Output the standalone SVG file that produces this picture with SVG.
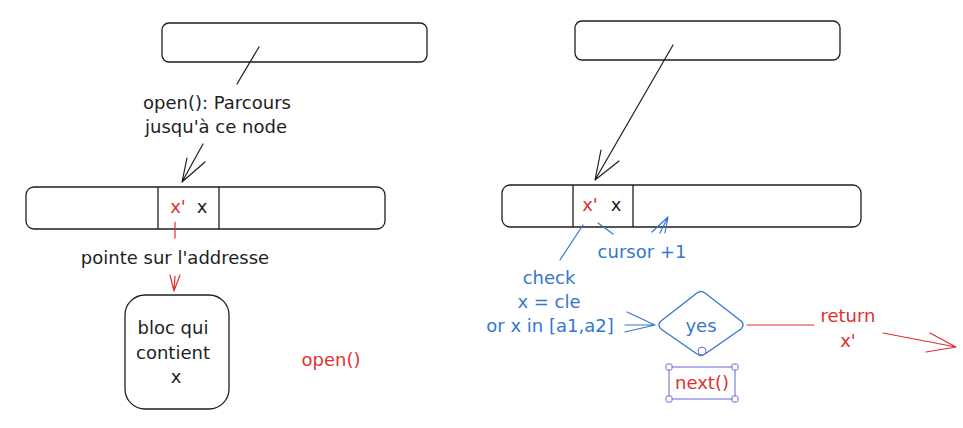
<svg xmlns="http://www.w3.org/2000/svg" width="963" height="428" viewBox="0 0 963 428">
  <style>
    .box { fill: #ffffff; stroke: #1e1e1e; stroke-width: 1.3; }
    .div { stroke: #1e1e1e; stroke-width: 1.3; }
    .t { font-family: "DejaVu Sans", "Liberation Sans", sans-serif; font-size: 18px; text-anchor: middle; }
    .k { fill: #1e1e1e; }
    .r { fill: #e03131; }
    .b { fill: #3577cf; }
    .ck { fill: none; stroke: #1e1e1e; stroke-width: 1.2; stroke-linecap: round; stroke-linejoin: round; }
    .cr { fill: none; stroke: #e03131; stroke-width: 1.2; stroke-linecap: round; stroke-linejoin: round; }
    .cb { fill: none; stroke: #3577cf; stroke-width: 1.2; stroke-linecap: round; stroke-linejoin: round; }
    .sel { fill: none; stroke: #6965db; stroke-width: 1; }
    .hdl { fill: #ffffff; stroke: #6965db; stroke-width: 1; }
  </style>

  <!-- left column -->
  <g id="left-top">
    <rect class="box" x="162" y="23" width="265" height="39" rx="7"/>
  </g>
  <g id="left-label">
    <text class="t k" x="217" y="109">open(): Parcours</text>
    <text class="t k" x="216" y="133">jusqu'à ce node</text>
  </g>
  <g id="left-bar">
    <rect class="box" x="26" y="187" width="359" height="42" rx="8"/>
    <line class="div" x1="158" y1="187" x2="158" y2="229"/>
    <line class="div" x1="219" y1="187" x2="219" y2="229"/>
    <text class="t r" x="178" y="213">x'</text>
    <text class="t k" x="202" y="213">x</text>
  </g>
  <g id="left-pointer-label">
    <text class="t k" x="175" y="264">pointe sur l'addresse</text>
  </g>
  <g id="bloc">
    <rect class="box" x="125" y="295" width="104" height="114" rx="20"/>
    <text class="t k" x="173" y="334">bloc qui</text>
    <text class="t k" x="173" y="359">contient</text>
    <text class="t k" x="176" y="383">x</text>
  </g>
  <g id="open-label">
    <text class="t r" x="331" y="366">open()</text>
  </g>

  <!-- right column -->
  <g id="right-top">
    <rect class="box" x="575" y="21" width="265" height="39" rx="7"/>
  </g>
  <g id="right-bar">
    <rect class="box" x="502" y="185" width="359" height="42" rx="8"/>
    <line class="div" x1="573" y1="185" x2="573" y2="227"/>
    <line class="div" x1="633" y1="185" x2="633" y2="227"/>
    <text class="t r" x="590" y="211">x'</text>
    <text class="t k" x="616" y="211">x</text>
  </g>
  <g id="cursor-label">
    <text class="t b" x="642" y="258">cursor +1</text>
  </g>
  <g id="check-label">
    <text class="t b" x="549" y="284">check</text>
    <text class="t b" x="549" y="308">x = cle</text>
    <text class="t b" x="550" y="332">or x in [a1,a2]</text>
  </g>
  <g id="decision">
    <path d="M661 321 L697 293 Q701 290 705 293 L741 321 Q745 325 741 329 L705 354 Q701 357 697 354 L661 329 Q657 325 661 321 Z" fill="#ffffff" stroke="#3577cf" stroke-width="1.3"/>
    <text class="t b" x="701" y="332">yes</text>
    <circle class="hdl" cx="702" cy="351" r="4"/>
  </g>
  <g id="next">
    <rect class="sel" x="669" y="367" width="66" height="32"/>
    <rect class="hdl" x="666" y="364" width="6" height="6" rx="1.5"/>
    <rect class="hdl" x="732" y="364" width="6" height="6" rx="1.5"/>
    <rect class="hdl" x="666" y="396" width="6" height="6" rx="1.5"/>
    <rect class="hdl" x="732" y="396" width="6" height="6" rx="1.5"/>
    <text class="t r" x="702" y="389">next()</text>
  </g>
  <g id="return-label">
    <text class="t r" x="848" y="322">return</text>
    <text class="t r" x="848" y="347">x'</text>
  </g>

  <!-- connectors -->
  <g id="connectors">
    <!-- left: top box to bar -->
    <line class="ck" x1="259" y1="47" x2="237" y2="84"/>
    <path class="ck" d="M203 144 L182 182 M187 158 L182 182 L205 162"/>
    <!-- left: x' to bloc -->
    <line class="cr" x1="175" y1="222" x2="175" y2="238"/>
    <path class="cr" d="M175 276 L174 291 M170 275 L174 291 L180 275"/>
    <!-- right: top box to bar -->
    <path class="ck" d="M673 45 L595 180 M601 150 L595 180 L619 161"/>
    <!-- right: cursor annotations -->
    <line class="cb" x1="583" y1="225" x2="560" y2="260"/>
    <line class="cb" x1="598" y1="223" x2="613" y2="234"/>
    <path class="cb" d="M660 233 L668 217 M652 232 L668 217 L665 233"/>
    <!-- right: check to decision -->
    <path class="cb" d="M625 325 L655 325 M627 312 L655 325 L625 332"/>
    <!-- right: decision to return -->
    <line class="cr" x1="747" y1="325" x2="814" y2="325"/>
    <path class="cr" d="M883 333 L956 347 M930 333 L956 347 L926 352"/>
  </g>
</svg>
